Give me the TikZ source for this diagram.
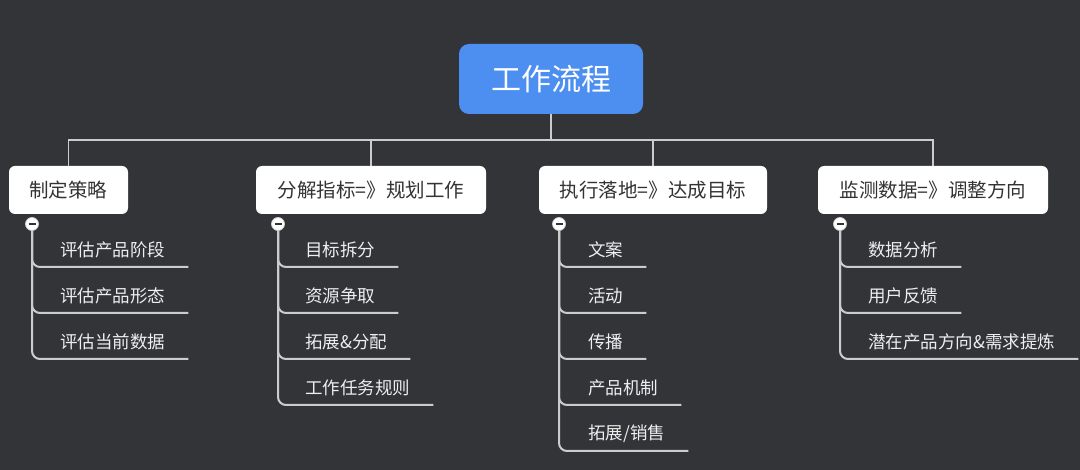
\documentclass[tikz,border=0pt]{standalone}
\usepackage{fontspec}
\setmainfont{Noto Sans CJK SC}
\usetikzlibrary{calc}
\definecolor{bg}{RGB}{51,52,56}
\definecolor{rootblue}{RGB}{77,143,240}
\definecolor{linegray}{RGB}{204,204,206}
\definecolor{kidtext}{RGB}{238,238,238}
\definecolor{branchtext}{RGB}{51,51,51}
\tikzset{
  rootbox/.style={fill=rootblue, rounded corners=10pt, minimum width=184pt, minimum height=70pt,
    text=white, font=\fontsize{30}{34}\selectfont, inner sep=0pt},
  branchbox/.style={fill=white, rounded corners=6pt, minimum height=48pt,
    text=branchtext, font=\fontsize{19.5}{22}\selectfont, inner sep=0pt},
  kid/.style={anchor=west, text=kidtext, font=\fontsize{17.5}{20}\selectfont, inner sep=0pt},
  conn/.style={draw=linegray, line width=2pt, rounded corners=8pt},
  bus/.style={draw=linegray, line width=1.8pt},
  minus/.style={circle, fill=white, draw=linegray, line width=0.8pt, minimum size=13pt, inner sep=0pt,
    path picture={\draw[branchtext, line width=1.4pt] ([xshift=-3.5pt]path picture bounding box.center) -- ([xshift=3.5pt]path picture bounding box.center);}}
}
\begin{document}
\begin{tikzpicture}[x=1pt,y=-1pt]
\fill[bg] (0,0) rectangle (1080,470);
\useasboundingbox (0,0) rectangle (1080,470);

% root and branches
\node[rootbox] (root) at (551,79) {工作流程};
\node[branchbox, minimum width=119pt] (b1) at (68.5,190) {制定策略};
\node[branchbox, minimum width=230pt] (b2) at (371,190) {分解指标=》规划工作};
\node[branchbox, minimum width=228pt] (b3) at (653,190) {执行落地=》达成目标};
\node[branchbox, minimum width=230pt] (b4) at (933,190) {监测数据=》调整方向};

\coordinate (busy) at (0,140);
\draw[bus] (b1.north) -- (b1.north |- busy) -- (b4.north |- busy) -- (b4.north);
\draw[bus] (root.south) -- (root.south |- busy);
\draw[bus] (b2.north) -- (b2.north |- busy);
\draw[bus] (b3.north) -- (b3.north |- busy);

% collapse markers
\coordinate (m1) at (32,224);
\coordinate (m2) at (278,224);
\coordinate (m3) at (559,224);
\coordinate (m4) at (840,224);

% branch 1 children
\foreach \t [count=\i] in {评估产品阶段,评估产品形态,评估当前数据} {
  \node[kid] (a\i) at ({60},{250+46*(\i-1)}) {\t};
  \draw[conn] (m1) |- ($(a\i.east)+(23,17)$);
}
% branch 2 children
\foreach \t [count=\i] in {目标拆分,资源争取,拓展\&分配,工作任务规则} {
  \node[kid] (c\i) at ({305},{250+46*(\i-1)}) {\t};
  \draw[conn] (m2) |- ($(c\i.east)+(23,17)$);
}
% branch 3 children
\foreach \t [count=\i] in {文案,活动,传播,产品机制,拓展/销售} {
  \node[kid] (d\i) at ({588},{250+46*(\i-1)}) {\t};
  \draw[conn] (m3) |- ($(d\i.east)+(23,17)$);
}
% branch 4 children
\foreach \t [count=\i] in {数据分析,用户反馈,潜在产品方向\&需求提炼} {
  \node[kid] (e\i) at ({868},{250+46*(\i-1)}) {\t};
  \draw[conn] (m4) |- ($(e\i.east)+(23,17)$);
}

\node[minus] at (m1) {};
\node[minus] at (m2) {};
\node[minus] at (m3) {};
\node[minus] at (m4) {};
\end{tikzpicture}
\end{document}
